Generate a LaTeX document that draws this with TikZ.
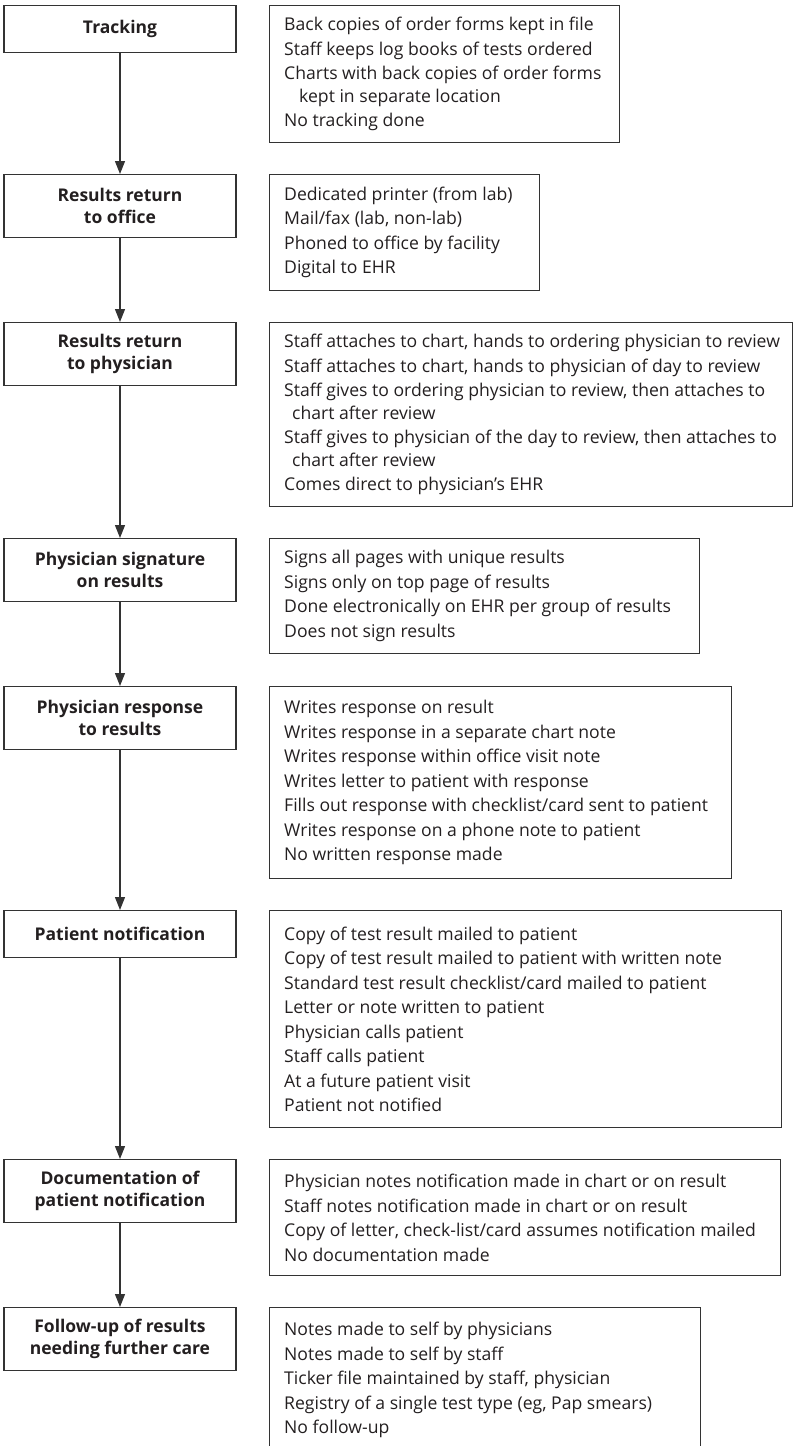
\documentclass[tikz,border=0pt]{standalone}
\usepackage{fontspec}
\setmainfont{Open Sans}
\newfontfamily\stagefont{Open Sans}
\usetikzlibrary{arrows.meta,positioning}
\definecolor{ink}{RGB}{35,31,32}
\definecolor{rule}{RGB}{51,51,51}

\begin{document}
\begin{tikzpicture}[x=1pt,y=-1pt,
    stage/.style={draw=rule,line width=1.2pt,minimum width=232pt,inner sep=0pt,
      align=center,text=ink,font=\stagefont\bfseries\fontsize{17.5}{21.5}\selectfont},
    optbox/.style={draw=rule,line width=1.2pt,inner sep=0pt,anchor=north west},
    opttext/.style={anchor=west,align=left,inner sep=0pt,text=ink,
      font=\fontsize{17.6}{22.5}\selectfont},
    flow/.style={-{Triangle[length=13pt,width=10pt]},line width=1.2pt,draw=rule},
  ]
  \clip (0,0) rectangle (793,1446);

  % steps on the left
  \foreach \i/\t/\h/\txt in {1/5/47/{Tracking},
                             2/174/63/{Results return\\to office},
                             3/322/63/{Results return\\to physician},
                             4/538/63/{Physician signature\\on results},
                             5/686/63/{Physician response\\to results},
                             6/910/47/{Patient notification},
                             7/1159/63/{Documentation of\\patient notification},
                             8/1307/63/{Follow-up of results\\needing further care}} {
    \node[stage,minimum height=\h pt,anchor=north] (st\i) at (120,\t) {\txt};
  }

  \foreach \a/\b in {1/2,2/3,3/4,4/5,5/6,6/7,7/8}
    \draw[flow] (st\a) -- (st\b);

  % option boxes on the right
  \foreach \i/\t/\w/\h in {1/5/350/137, 2/174/270/116, 3/322/523/184,
                           4/538/430/115, 5/686/462/192, 6/910/512/217,
                           7/1159/511/116, 8/1307/431/145} {
    \node[optbox,minimum width=\w pt,minimum height=\h pt] (opt\i) at (269,\t) {};
  }

  \node[opttext] (txt1) at ([xshift=15pt]opt1.west)
    {Back copies of order forms kept in file\\[2pt]
     Staff keeps log books of tests ordered\\[2pt]
     Charts with back copies of order forms\\
     \hspace*{15pt}kept in separate location\\[2pt]
     No tracking done};
  \node[opttext] (txt2) at ([xshift=15pt]opt2.west)
    {Dedicated printer (from lab)\\[2pt]
     Mail/fax (lab, non-lab)\\[2pt]
     Phoned to office by facility\\[2pt]
     Digital to EHR};
  \node[opttext] (txt3) at ([xshift=15pt]opt3.west)
    {Staff attaches to chart, hands to ordering physician to review\\[2pt]
     Staff attaches to chart, hands to physician of day to review\\[2pt]
     Staff gives to ordering physician to review, then attaches to\\
     \hspace*{8pt}chart after review\\[2pt]
     Staff gives to physician of the day to review, then attaches to\\
     \hspace*{8pt}chart after review\\[2pt]
     Comes direct to physician’s EHR};
  \node[opttext] (txt4) at ([xshift=15pt]opt4.west)
    {Signs all pages with unique results\\[2pt]
     Signs only on top page of results\\[2pt]
     Done electronically on EHR per group of results\\[2pt]
     Does not sign results};
  \node[opttext] (txt5) at ([xshift=15pt]opt5.west)
    {Writes response on result\\[2pt]
     Writes response in a separate chart note\\[2pt]
     Writes response within office visit note\\[2pt]
     Writes letter to patient with response\\[2pt]
     Fills out response with checklist/card sent to patient\\[2pt]
     Writes response on a phone note to patient\\[2pt]
     No written response made};
  \node[opttext] (txt6) at ([xshift=15pt]opt6.west)
    {Copy of test result mailed to patient\\[2pt]
     Copy of test result mailed to patient with written note\\[2pt]
     Standard test result checklist/card mailed to patient\\[2pt]
     Letter or note written to patient\\[2pt]
     Physician calls patient\\[2pt]
     Staff calls patient\\[2pt]
     At a future patient visit\\[2pt]
     Patient not notified};
  \node[opttext] (txt7) at ([xshift=15pt]opt7.west)
    {Physician notes notification made in chart or on result\\[2pt]
     Staff notes notification made in chart or on result\\[2pt]
     Copy of letter, check-list/card assumes notification mailed\\[2pt]
     No documentation made};
  \node[opttext] (txt8) at ([xshift=15pt]opt8.west)
    {Notes made to self by physicians\\[2pt]
     Notes made to self by staff\\[2pt]
     Ticker file maintained by staff, physician\\[2pt]
     Registry of a single test type (eg, Pap smears)\\[2pt]
     No follow-up};

\end{tikzpicture}
\end{document}
